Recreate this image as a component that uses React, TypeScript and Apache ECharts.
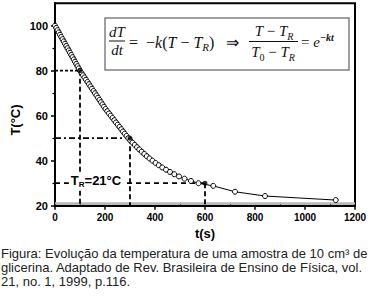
import React, { useEffect, useRef } from "react";
import * as echarts from "echarts";

const timeS = [
  0, 5, 10, 15, 20, 25, 30, 35, 40, 45, 50, 55, 60, 65, 70, 75, 80, 85, 90, 95,
  100, 106, 112, 118, 124, 130, 136, 142, 148, 154, 160, 166, 172, 178, 184, 190,
  196, 202, 209, 216, 223, 230, 237, 244, 251, 258, 265, 272, 279, 286, 293, 301,
  310, 319, 328, 337, 347, 357, 367, 378, 390, 402, 415, 429, 444, 460, 477, 496,
  518, 544, 574, 633, 720, 840, 1123,
];
const tempC = [
  100, 99, 98, 97, 96, 95, 94, 93, 92, 91, 90, 89, 88, 87, 86, 85, 84, 83, 82, 81,
  80, 79, 78, 77, 76, 75, 74, 73, 72, 71, 70, 69, 68, 67, 66, 65,
  64, 63, 62, 61, 60, 59, 58, 57, 56, 55, 54, 53, 52, 51, 50, 49,
  48, 47, 46, 45, 44, 43, 42, 41, 40, 39, 38, 37, 36, 35, 34, 33,
  32, 31, 30, 28.8, 26.2, 24.3, 22.5,
];

// Guide lines (dashed drop lines)
const guideTimes = [100, 300, 600];
const guideTemps = [80, 50, 30];
const roomTemp = 21;

const xTicks = [0, 200, 400, 600, 800, 1000, 1200];
const xMinorTicks = [100, 300, 500, 700, 900, 1100];
const yTicks = [20, 40, 60, 80, 100];
const yMinorTicks = [30, 50, 70, 90];

const captionLines = [
  "Figura: Evolução da temperatura de uma amostra de 10 cm³ de",
  "glicerina. Adaptado de Rev. Brasileira de Ensino de Física, vol.",
  "21, no. 1, 1999, p.116.",
];

const SANS = "'Liberation Sans', Arial, sans-serif";
const SERIF = "'Liberation Serif', 'Times New Roman', serif";

export default function App() {
  const ref = useRef<HTMLDivElement>(null);

  useEffect(() => {
    if (!ref.current) return;
    const chart = echarts.init(ref.current, null, { renderer: "svg" });

    const xMin = 0, xMax = 1200, yMin = 20, yMax = 110;
    const hDash = [[3, 2], [6, 3, 2, 3], [5, 4]];

    const guideSeries: any[] = [];
    guideTimes.forEach((t, i) => {
      const T = guideTemps[i];
      guideSeries.push({
        type: "line",
        data: [[xMin, T], [t, T]],
        symbol: "none",
        lineStyle: { color: "#000", width: 1.8, type: hDash[i] },
        z: 3,
        silent: true,
      });
      guideSeries.push({
        type: "line",
        data: [[t, T], [t, yMin]],
        symbol: "none",
        lineStyle: { color: "#000", width: 1.8, type: [5, 3] },
        z: 3,
        silent: true,
      });
    });

    const rich = {
      i: { fontFamily: SERIF, fontStyle: "italic", fontSize: 15, lineHeight: 20, fill: "#111" },
      u: { fontFamily: SERIF, fontSize: 15, lineHeight: 20, fill: "#111" },
      s: { fontFamily: SERIF, fontStyle: "italic", fontSize: 10, lineHeight: 11, verticalAlign: "bottom", fill: "#111" },
      z: { fontFamily: SERIF, fontSize: 10, lineHeight: 11, verticalAlign: "bottom", fill: "#111" },
      p: { fontFamily: SERIF, fontStyle: "italic", fontWeight: "bold", fontSize: 10, lineHeight: 10, verticalAlign: "top", fill: "#111" },
    };

    const option: any = {
      animation: false,
      grid: {
        left: 55, right: 20, top: 3.2, bottom: 92.3,
        show: true, borderColor: "#000", borderWidth: 2,
      },
      xAxis: [
        {
          type: "value", min: xMin, max: xMax,
          axisLine: { lineStyle: { color: "#000", width: 2 } },
          axisTick: { customValues: xTicks, length: 4, lineStyle: { color: "#000", width: 1.5 } },
          axisLabel: {
            customValues: xTicks, margin: 7, color: "#000",
            fontFamily: SANS, fontWeight: "bold", fontSize: 10,
            formatter: (v: number) => String(v),
          },
          splitLine: { show: false },
        },
        {
          type: "value", min: xMin, max: xMax, position: "bottom",
          axisLine: { show: false },
          axisTick: { customValues: xMinorTicks, inside: true, length: 3, lineStyle: { color: "#000", width: 1.2 } },
          axisLabel: { show: false },
          splitLine: { show: false },
        },
      ],
      yAxis: [
        {
          type: "value", min: yMin, max: yMax,
          axisLine: { show: true, lineStyle: { color: "#000", width: 2 } },
          axisTick: { show: true, customValues: yTicks, length: 4, lineStyle: { color: "#000", width: 1.5 } },
          axisLabel: {
            customValues: yTicks, margin: 7, color: "#000",
            fontFamily: SANS, fontWeight: "bold", fontSize: 11,
            formatter: (v: number) => String(v),
          },
          splitLine: { show: false },
        },
        {
          type: "value", min: yMin, max: yMax, position: "left",
          axisLine: { show: false },
          axisTick: { show: true, customValues: yMinorTicks, length: 2.5, lineStyle: { color: "#000", width: 1.2 } },
          axisLabel: { show: false },
          splitLine: { show: false },
        },
      ],
      series: [
        {
          type: "line",
          data: [[xMin, roomTemp], [xMax, roomTemp]],
          symbol: "none",
          lineStyle: { color: "#b8b8b8", width: 2.2 },
          z: 1,
          silent: true,
        },
        ...guideSeries,
        {
          type: "line",
          data: timeS.map((t, k) => [t, tempC[k]]),
          symbol: "circle",
          symbolSize: 5,
          itemStyle: { color: "#fff", borderColor: "#000", borderWidth: 1 },
          lineStyle: { color: "#000", width: 1 },
          z: 4,
        },
        {
          type: "scatter",
          data: guideTimes.map((t, i) => [t, guideTemps[i]]),
          symbolSize: 5,
          itemStyle: { color: "#000" },
          z: 5,
        },
      ],
      graphic: [
        // equation box
        { type: "rect", z: 10, shape: { x: 105, y: 18, width: 244, height: 52 }, style: { fill: "#fff", stroke: "#808080", lineWidth: 1.5 } },
        { type: "text", z: 11, x: 117, y: 32, style: { text: "{i|dT}", rich, align: "center", verticalAlign: "middle" } },
        { type: "line", z: 11, shape: { x1: 109, y1: 41, x2: 125, y2: 41 }, style: { stroke: "#111", lineWidth: 1 } },
        { type: "text", z: 11, x: 117, y: 50, style: { text: "{i|dt}", rich, align: "center", verticalAlign: "middle" } },
        {
          type: "text", z: 11, x: 129, y: 42,
          style: {
            text: "{u|=  −}{i|k}{u|(}{i|T}{u| − }{i|T}{s|R}{u|)   ⇒}",
            rich: {
              ...rich,
              i: { ...rich.i, fontSize: 16 },
              u: { ...rich.u, fontSize: 16 },
              s: { ...rich.s, fontSize: 11 },
            },
            align: "left", verticalAlign: "middle",
          },
        },
        { type: "text", z: 11, x: 274, y: 31, style: { text: "{i|T}{u| − }{i|T}{s|R}", rich, align: "center", verticalAlign: "middle" } },
        { type: "line", z: 11, shape: { x1: 249, y1: 41.5, x2: 298, y2: 41.5 }, style: { stroke: "#111", lineWidth: 1 } },
        { type: "text", z: 11, x: 273, y: 52, style: { text: "{i|T}{z|0}{u| − }{i|T}{s|R}", rich, align: "center", verticalAlign: "middle" } },
        { type: "text", z: 11, x: 301, y: 42, style: { text: "{u|= }{i|e}{p|−kt}", rich, align: "left", verticalAlign: "middle" } },
        // T_R label on the 30 °C line
        {
          type: "text", z: 20, x: 96, y: 180,
          style: {
            text: "{a|T}{b|R}{a|=21°C}",
            rich: {
              a: { fontFamily: SANS, fontWeight: "bold", fontSize: 13, lineHeight: 16, fill: "#000" },
              b: { fontFamily: SANS, fontWeight: "bold", fontSize: 8, lineHeight: 8, verticalAlign: "bottom", fill: "#000" },
            },
            backgroundColor: "#fff", padding: [0, 2],
            align: "center", verticalAlign: "middle",
          },
        },
        // axis names
        {
          type: "text", x: 15, y: 120, rotation: Math.PI / 2,
          style: { text: "T(°C)", fontFamily: SANS, fontWeight: "bold", fontSize: 13, fill: "#000", align: "center", verticalAlign: "middle" },
        },
        {
          type: "text", x: 205, y: 233,
          style: { text: "t(s)", fontFamily: SANS, fontWeight: "bold", fontSize: 13, fill: "#000", align: "center", verticalAlign: "middle" },
        },
        // caption
        ...captionLines.map((line, k) => ({
          type: "text", x: 1, y: [253, 267, 281][k],
          style: { text: line, fontFamily: SANS, fontSize: 13, lineHeight: 13, fill: "#222", align: "left", verticalAlign: "middle" },
        })),
      ],
    };

    chart.setOption(option);
    return () => chart.dispose();
  }, []);

  return (
    <div style={{ position: "fixed", left: 0, top: 0, width: 375, height: 298, background: "#fff" }}>
      <div ref={ref} style={{ width: 375, height: 298 }} />
    </div>
  );
}
